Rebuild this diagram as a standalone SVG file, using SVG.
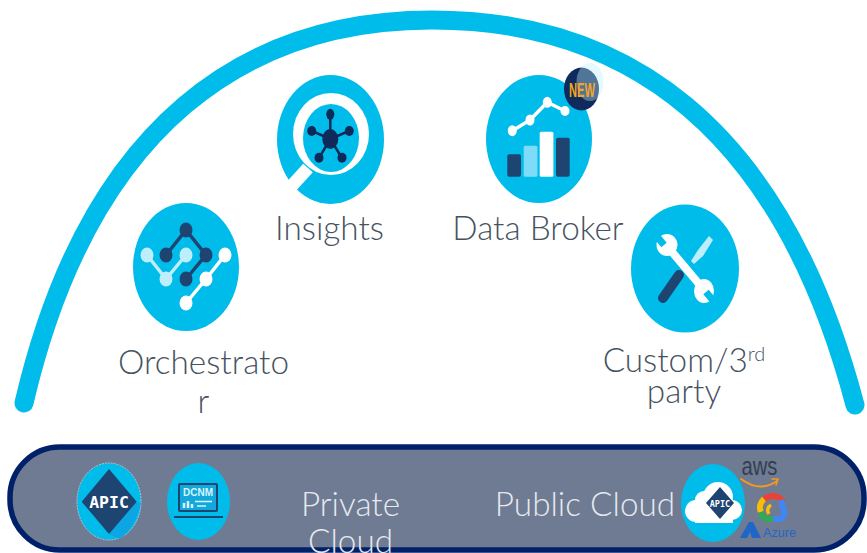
<svg xmlns="http://www.w3.org/2000/svg" width="867" height="553" viewBox="0 0 867 553">
<style>
.b{fill:#00bceb}.d{fill:#1e4471}.l{fill:#bdeefc}.w{fill:#fff}
.t{font-family:"Lato","Open Sans",sans-serif;font-weight:300;font-size:33.300px;fill:#46535f;text-anchor:middle}
.p{fill:#e6e9ef}
.m{font-family:"DejaVu Sans Mono","Liberation Mono",monospace;font-weight:700;fill:#fff;text-anchor:middle}
.ln{fill:none;stroke-linecap:round;stroke-linejoin:round}
</style>
<g id="connectors"><path d="M24 403C90 120 250 20 432 20C620 20 780 120 855 405" fill="none" stroke="#00bceb" stroke-width="19" stroke-linecap="round"/></g>

<g id="orchestrator">
<ellipse class="b" cx="186" cy="267" rx="53" ry="64"/>
<path class="ln" d="M166 255L186 230L206 255L186 279" stroke="#1e4471" stroke-width="3.5"/>
<path class="ln" d="M147 255L166 279L186 255" stroke="#bdeefc" stroke-width="3.5"/>
<path class="ln" d="M186 303L206 279L225 255" stroke="#fff" stroke-width="3.5"/>
<g class="d"><ellipse cx="186" cy="230" rx="6.5" ry="7.5"/><ellipse cx="166" cy="255" rx="6.5" ry="7.5"/><ellipse cx="206" cy="255" rx="6.5" ry="7.5"/><ellipse cx="186" cy="279" rx="6.5" ry="7.5"/></g>
<g class="l"><ellipse cx="147" cy="255" rx="6.5" ry="7.5"/><ellipse cx="166" cy="279" rx="6.5" ry="7.5"/><ellipse cx="186" cy="255" rx="6.5" ry="7.5"/></g>
<g class="w"><ellipse cx="225" cy="255" rx="6.5" ry="7.5"/><ellipse cx="206" cy="279" rx="6.5" ry="7.5"/><ellipse cx="186" cy="303" rx="6.5" ry="7.5"/></g>
<text class="t" x="203.500" y="374">Orchestrato</text>
<text class="t" x="203.500" y="413">r</text>
</g>

<g id="insights">
<ellipse class="b" cx="330.500" cy="139.500" rx="53.500" ry="64.500"/>
<ellipse class="w" cx="331" cy="134" rx="38" ry="41"/>
<ellipse class="b" cx="331" cy="138" rx="28" ry="34"/>
<path d="M308 168L288 190" stroke="#fff" stroke-width="13" fill="none"/>
<path d="M330.300 139V114M330.300 139L312 131M330.300 139L349 131M330.300 139L319 158M330.300 139L342 158" stroke="#0d2a5a" stroke-width="2.500" fill="none"/>
<g fill="#0d2a5a"><ellipse cx="330.300" cy="139" rx="8" ry="10"/><ellipse cx="330.300" cy="114.300" rx="4" ry="5.500"/><ellipse cx="311.700" cy="131" rx="4.500" ry="5"/><ellipse cx="349.300" cy="131" rx="4.500" ry="5"/><ellipse cx="319" cy="157.700" rx="4.500" ry="5"/><ellipse cx="342" cy="157.700" rx="4.500" ry="5"/></g>
<text class="t" x="329.500" y="240">Insights</text>
</g>

<g id="data-broker">
<ellipse class="b" cx="539" cy="139" rx="53" ry="64"/>
<path class="ln" d="M512.300 130.700L530 120L547.300 102.300L565 111" stroke="#fff" stroke-width="3.500"/>
<g class="w"><ellipse cx="512.300" cy="130.700" rx="4.500" ry="5.500"/><ellipse cx="530" cy="120" rx="4.500" ry="5.500"/><ellipse cx="547.300" cy="102.300" rx="4.500" ry="5.500"/><ellipse cx="565" cy="111" rx="4.500" ry="5"/></g>
<rect class="d" x="507.300" y="154.300" width="13.700" height="22.400" rx="2"/>
<rect x="523.700" y="145.700" width="13.700" height="31" rx="1.500" fill="#7fdcf8"/>
<rect class="w" x="539.700" y="131.700" width="13.700" height="45" rx="1.500"/>
<rect class="d" x="556" y="137.700" width="13.700" height="39" rx="2"/>
<ellipse cx="581.500" cy="89" rx="17.500" ry="21.500" fill="#0f2a5c"/>
<ellipse cx="590" cy="82" rx="13.500" ry="19" fill="#bdeefc" opacity=".38"/>
<text x="582" y="97" font-family="Liberation Sans,sans-serif" font-weight="700" font-size="20" fill="#f5a623" text-anchor="middle" textLength="26" lengthAdjust="spacingAndGlyphs">NEW</text>
<text class="t" x="538" y="240">Data Broker</text>
</g>

<g id="custom">
<ellipse class="b" cx="685" cy="268.500" rx="54" ry="64"/>
<path d="M709 236L713 240L703 256L694 264L691 261L698 250Z" class="l"/>
<path class="ln" d="M679 275L663 298" stroke="#1e4471" stroke-width="10"/>
<path class="ln" d="M667 246L705 291" stroke="#fff" stroke-width="8"/>
<ellipse class="w" cx="667" cy="245" rx="10.500" ry="11"/>
<ellipse class="w" cx="704" cy="291" rx="10" ry="12"/>
<path d="M664 245L655 234" stroke="#00bceb" stroke-width="7" fill="none"/>
<path d="M706 292L716 304" stroke="#00bceb" stroke-width="7" fill="none"/>
<text class="t" x="684" y="372">Custom/3<tspan font-size="20" dy="-11">rd</tspan></text>
<text class="t" x="684" y="403">party</text>
</g>

<g id="cloud-bar">
<rect x="10" y="447" width="854" height="103" rx="50" fill="#6f7b92" stroke="#002169" stroke-width="5.500"/>
</g>

<g id="apic">
<ellipse class="b" cx="109" cy="501.500" rx="32" ry="38.500" stroke="#c9ced6" stroke-width=".8" stroke-dasharray="2 1"/>
<path d="M136.700 501.700L109 534L120 539Q135 528 141 503Z" fill="#0ca6e4"/>
<path class="d" d="M109 469L136.700 501.700L109 534L81.700 501.700Z"/>
<text class="m" x="109" y="507.500" font-size="16.500">APIC</text>
</g>

<g id="dcnm">
<ellipse class="b" cx="198.500" cy="501.500" rx="31.500" ry="38.500"/>
<rect x="179" y="484" width="38" height="27" fill="#12a8dc" stroke="#1e4471" stroke-width="2" rx="1"/>
<text x="198" y="496" font-family="Liberation Sans,sans-serif" font-weight="700" font-size="10.500" fill="#d8f5fd" text-anchor="middle" textLength="30" lengthAdjust="spacingAndGlyphs">DCNM</text>
<path d="M174 517H223" stroke="#1e4471" stroke-width="2"/>
<path d="M184 508V503M188 508V501M192 508V504" stroke="#d8f5fd" stroke-width="2.500"/>
<path d="M195 501.500H212M197 506H206" stroke="#d8f5fd" stroke-width="1.500"/>
</g>

<g id="private-cloud">
<text class="t p" x="350.500" y="516">Private</text>
<text class="t p" x="350.500" y="553">Cloud</text>
</g>

<g id="public-cloud">
<text class="t p" x="585" y="516">Public Cloud</text>
<ellipse class="b" cx="713" cy="503" rx="32" ry="39"/>
<g class="w"><circle cx="696" cy="511" r="11"/><circle cx="704" cy="500" r="9"/><circle cx="718" cy="497" r="15"/><circle cx="732" cy="510" r="10"/><circle cx="725" cy="514" r="9"/><rect x="695" y="508" width="38" height="15"/></g>
<path class="d" d="M720 487L734 503L720 519L706 503Z"/>
<text class="m" x="720" y="506.500" font-size="8.500">APIC</text>
</g>

<g id="providers">
<text x="759.500" y="475" font-family="Liberation Sans,sans-serif" font-size="26" fill="#333e4f" text-anchor="middle" textLength="36" lengthAdjust="spacingAndGlyphs">aws</text>
<path class="ln" d="M741 479Q760 493 777 481" stroke="#f79a1b" stroke-width="1.800"/>
<path class="ln" d="M772 479L778 479L776 485" stroke="#f79a1b" stroke-width="1.500"/>
<path d="M763 501A12 12 0 0 1 783 502" fill="none" stroke="#ea4335" stroke-width="6"/>
<path d="M781 500L784 511A6 6 0 0 1 779 519H772" fill="none" stroke="#4285f4" stroke-width="6"/>
<path d="M764 499A11 11 0 0 0 761 512" fill="none" stroke="#fbbc05" stroke-width="6"/>
<path d="M761 512Q762 519 768 519H773" fill="none" stroke="#34a853" stroke-width="6"/>
<path d="M771 505A6 6 0 0 0 769 514" fill="none" stroke="#fbbc05" stroke-width="3.500"/>
<path d="M740 538L749 522H753L761 538H752L750 532L747 538Z" fill="#1f66c9"/>
<text x="763" y="537" font-family="Liberation Sans,sans-serif" font-size="12.500" fill="#1f66c9" textLength="33" lengthAdjust="spacingAndGlyphs">Azure</text>
</g>
</svg>
